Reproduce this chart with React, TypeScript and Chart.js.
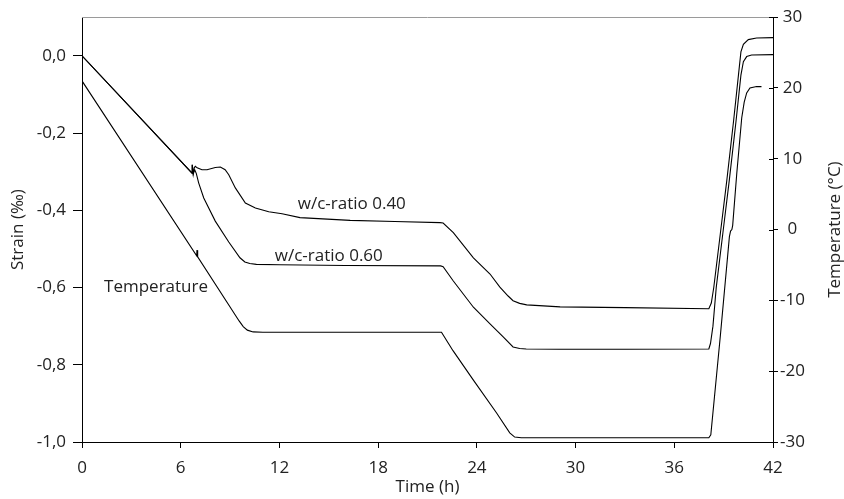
import React, { useEffect, useRef } from 'react';
import { Chart, registerables } from 'chart.js';

Chart.register(...registerables);

const FONT = '"Open Sans", "Noto Sans", sans-serif';
const TEXT_COLOR = '#222222';
const FONT_SIZE = 17;

// x axis (time, h)
const X_MIN = 0;
const X_MAX = 42;
const X_STEP = 6;
// left axis (strain, ‰)
const STRAIN_MIN = -1;
const STRAIN_MAX = 0.1;
const STRAIN_STEP = 0.2;
// right axis (temperature, °C)
const TEMP_MIN = -30;
const TEMP_MAX = 30;
const TEMP_STEP = 10;

// w/c-ratio 0.40 strain
const time040 = [0, 6.69, 6.7, 6.76, 6.82, 6.89, 7.0, 7.29, 7.6, 8.1, 8.41, 8.7, 8.92, 9.32, 9.93, 10.54, 11.35, 12.16, 13.25, 16.3, 19.0, 21.76, 21.95, 22.57, 23.79, 24.8, 25.4, 25.9, 26.2, 26.6, 27.03, 29.06, 33.0, 38.1, 38.25, 38.4, 38.8, 39.2, 39.6, 39.9, 40.05, 40.2, 40.5, 41.0, 42];
const strain040 = [0, -0.304, -0.282, -0.306, -0.29, -0.286, -0.29, -0.295, -0.295, -0.289, -0.288, -0.295, -0.308, -0.342, -0.381, -0.394, -0.404, -0.409, -0.419, -0.426, -0.429, -0.432, -0.433, -0.458, -0.523, -0.565, -0.599, -0.622, -0.634, -0.641, -0.645, -0.65, -0.652, -0.655, -0.64, -0.6, -0.46, -0.32, -0.17, -0.05, 0.01, 0.03, 0.042, 0.046, 0.047];

// w/c-ratio 0.60 strain
const time060 = [0, 6.69, 6.7, 6.76, 6.85, 6.95, 7.09, 7.4, 8.1, 8.92, 9.6, 9.9, 10.2, 10.6, 12, 16, 21.8, 21.95, 22.57, 23.79, 24.8, 25.6, 26.2, 26.6, 27.0, 29, 33, 38.1, 38.2, 38.35, 38.55, 38.95, 39.35, 39.75, 40.05, 40.2, 40.4, 40.7, 42];
const strain060 = [0, -0.304, -0.282, -0.306, -0.295, -0.305, -0.329, -0.368, -0.428, -0.482, -0.523, -0.534, -0.538, -0.54, -0.541, -0.543, -0.544, -0.546, -0.583, -0.651, -0.694, -0.728, -0.754, -0.758, -0.759, -0.76, -0.76, -0.759, -0.745, -0.7, -0.6, -0.46, -0.32, -0.17, -0.05, -0.015, -0.002, 0.002, 0.003];

// Temperature (right axis)
const timeTemp = [0, 6.97, 6.99, 7.03, 9.55, 9.8, 10.05, 10.4, 11, 16, 21.85, 22.55, 23.8, 25.2, 26.0, 26.3, 26.7, 33, 38.1, 38.22, 38.8, 39.35, 39.42, 39.5, 39.55, 39.8, 40.1, 40.25, 40.4, 40.6, 41.0, 41.3];
const temperature = [21.0, -3.7, -2.9, -3.85, -12.9, -13.7, -14.2, -14.45, -14.5, -14.5, -14.5, -17.1, -21.3, -25.9, -28.7, -29.3, -29.4, -29.4, -29.4, -29.0, -15.0, -1.0, -0.2, 0.0, 0.6, 8.0, 15.8, 18.0, 19.3, 20.0, 20.2, 20.2];

// in-plot labels (anchored in data coordinates of the strain axis)
const noteTexts = ['w/c-ratio 0.40', 'w/c-ratio 0.60', 'Temperature'];
const noteTimes = [16.4, 15.0, 4.5];
const noteStrains = [-0.384, -0.518, -0.598];

const xTitle = 'Time (h)';
const yTitle = 'Strain (‰)';
const y2Title = 'Temperature (°C)';

const pts = (xs: number[], ys: number[]) => xs.map((x, i) => ({ x, y: ys[i] }));

const overlay = {
  id: 'overlay',
  afterDraw(chart: any) {
    const { ctx, chartArea, scales } = chart;
    const { left, right, top, bottom } = chartArea;
    ctx.save();
    // top frame line (grey)
    ctx.strokeStyle = '#9a9a9a';
    ctx.lineWidth = 1;
    ctx.beginPath();
    ctx.moveTo(left, Math.round(top) + 0.5);
    ctx.lineTo(right, Math.round(top) + 0.5);
    ctx.stroke();
    // inner halves of right-axis ticks (they cross the axis)
    const yr = scales.yTemp;
    ctx.strokeStyle = '#000';
    ctx.beginPath();
    yr.ticks.forEach((tk: any) => {
      const py = Math.round(yr.getPixelForValue(tk.value)) + 0.5;
      ctx.moveTo(right - 4, py);
      ctx.lineTo(right, py);
    });
    ctx.stroke();

    ctx.fillStyle = TEXT_COLOR;
    ctx.font = `${FONT_SIZE}px ${FONT}`;
    ctx.textAlign = 'center';
    ctx.textBaseline = 'middle';
    const xs = scales.x;
    const ys = scales.y;
    noteTexts.forEach((t, i) => {
      ctx.fillText(t, xs.getPixelForValue(noteTimes[i]), ys.getPixelForValue(noteStrains[i]));
    });
    // axis titles
    ctx.fillText(xTitle, (left + right) / 2, bottom + 45);
    ctx.save();
    ctx.translate(left - 64, (top + bottom) / 2);
    ctx.rotate(-Math.PI / 2);
    ctx.fillText(yTitle, 0, 0);
    ctx.restore();
    ctx.save();
    ctx.translate(right + 62, (top + bottom) / 2);
    ctx.rotate(-Math.PI / 2);
    ctx.fillText(y2Title, 0, 0);
    ctx.restore();
    ctx.restore();
  },
};

export default function App() {
  const ref = useRef<HTMLCanvasElement>(null);
  useEffect(() => {
    if (!ref.current) return;
    const line = (label: string, data: any[], axis: string) => ({
      label,
      data,
      yAxisID: axis,
      borderColor: '#000',
      borderWidth: 1.1,
      pointRadius: 0,
      fill: false,
      tension: 0,
    });
    const chart = new Chart(ref.current, {
      type: 'line',
      data: {
        datasets: [
          line('w/c-ratio 0.40', pts(time040, strain040), 'y'),
          line('w/c-ratio 0.60', pts(time060, strain060), 'y'),
          line('Temperature', pts(timeTemp, temperature), 'yTemp'),
        ],
      },
      options: {
        responsive: false,
        animation: false,
        devicePixelRatio: 1,
        layout: { padding: { top: 15, left: 0, right: 0, bottom: 0 } },
        plugins: { legend: { display: false }, tooltip: { enabled: false } },
        scales: {
          x: {
            type: 'linear',
            min: X_MIN,
            max: X_MAX,
            afterFit: (s: any) => { s.height = 57; },
            border: { display: true, color: '#000', width: 1 },
            grid: { drawOnChartArea: false, drawTicks: true, tickLength: 6, color: '#000' },
            ticks: { stepSize: X_STEP, color: TEXT_COLOR, font: { family: FONT, size: FONT_SIZE }, padding: 10, maxRotation: 0 },
          },
          y: {
            type: 'linear',
            position: 'left',
            min: STRAIN_MIN,
            max: STRAIN_MAX,
            afterFit: (s: any) => { s.width = 82; },
            border: { display: true, color: '#000', width: 1 },
            grid: { drawOnChartArea: false, drawTicks: true, tickLength: 9, color: '#000' },
            ticks: {
              stepSize: STRAIN_STEP,
              includeBounds: false,
              color: TEXT_COLOR,
              font: { family: FONT, size: FONT_SIZE },
              padding: 7,
              callback: (v: any) => Number(v).toFixed(1).replace('.', ','),
            },
          },
          yTemp: {
            type: 'linear',
            position: 'right',
            min: TEMP_MIN,
            max: TEMP_MAX,
            afterFit: (s: any) => { s.width = 71; },
            border: { display: true, color: '#000', width: 1 },
            grid: { drawOnChartArea: false, drawTicks: true, tickLength: 5, color: '#000' },
            ticks: {
              stepSize: TEMP_STEP,
              color: TEXT_COLOR,
              font: { family: FONT, size: FONT_SIZE },
              padding: 2,
              crossAlign: 'center',
              callback: (v: any) => String(Math.round(Number(v))),
            },
          },
        },
      },
      plugins: [overlay],
    } as any);
    return () => chart.destroy();
  }, []);
  return (
    <div style={{ position: 'absolute', left: 0, top: 0, width: 844, height: 499, background: '#fff' }}>
      <canvas ref={ref} width={844} height={499} style={{ display: 'block' }} />
    </div>
  );
}
